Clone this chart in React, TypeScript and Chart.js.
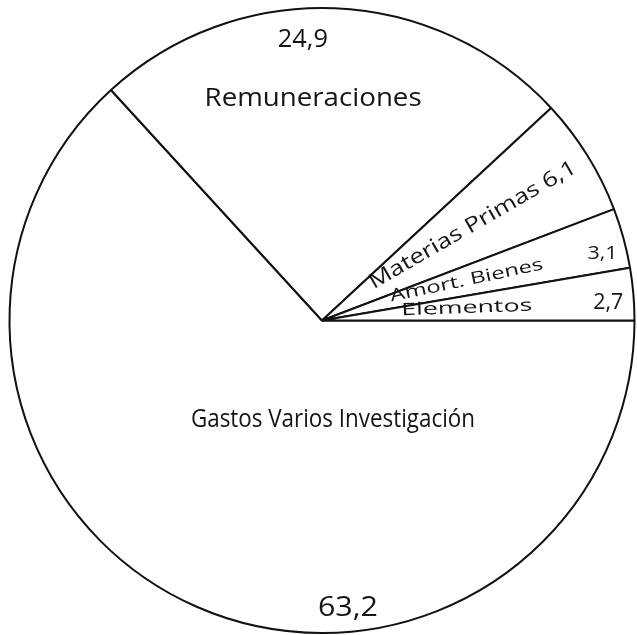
import React, { useEffect, useRef } from "react";
import { Chart, registerables } from "chart.js";

Chart.register(...registerables);

// Data (clockwise from 3 o'clock)
const categories = [
  "Gastos Varios Investigación",
  "Remuneraciones",
  "Materias Primas",
  "Amort. Bienes",
  "Elementos",
];
const values = [63.2, 24.9, 6.1, 3.1, 2.7];
const valueLabels = values.map((v) => v.toFixed(1).replace(".", ","));

// Label placement: polar position relative to the pie centre (fraction of radius, degrees)
type Placement = { i: number; t: "name" | "value" | "both"; r: number; a: number; rot: number; size: number; w: number };
const placements: Placement[] = [
  { i: 1, t: "name", r: 0.711, a: -92.3, rot: 0, size: 25, w: 217 },
  { i: 1, t: "value", r: 0.9, a: -93.9, rot: 0, size: 26, w: 50 },
  { i: 2, t: "both", r: 0.571, a: -32.3, rot: -30, size: 21, w: 236 },
  { i: 3, t: "name", r: 0.48, a: -15.4, rot: -12, size: 17, w: 156 },
  { i: 3, t: "value", r: 0.923, a: -13.4, rot: 0, size: 19, w: 30 },
  { i: 4, t: "name", r: 0.465, a: -4.9, rot: -2, size: 17, w: 131 },
  { i: 4, t: "value", r: 0.918, a: -3.5, rot: 0, size: 21, w: 30 },
  { i: 0, t: "name", r: 0.32, a: 83.7, rot: 0, size: 26, w: 284 },
  { i: 0, t: "value", r: 0.925, a: 84.85, rot: 0, size: 27, w: 60 },
];

const labelPlugin = {
  id: "handLabels",
  afterDatasetsDraw(chart: any) {
    const meta = chart.getDatasetMeta(0);
    const ctx = chart.ctx;
    ctx.save();
    ctx.fillStyle = "#151515";
    ctx.textAlign = "center";
    ctx.textBaseline = "middle";
    for (const p of placements) {
      const arc = meta.data[p.i];
      if (!arc) continue;
      const { x, y, outerRadius } = arc.getProps(["x", "y", "outerRadius"], true);
      const ang = (p.a * Math.PI) / 180;
      const px = x + Math.cos(ang) * outerRadius * p.r;
      const py = y + Math.sin(ang) * outerRadius * p.r;
      let text = "";
      if (p.t === "name") text = categories[p.i];
      else if (p.t === "value") text = valueLabels[p.i];
      else text = categories[p.i] + " " + valueLabels[p.i];
      ctx.save();
      ctx.translate(px, py);
      ctx.rotate((p.rot * Math.PI) / 180);
      ctx.font = `${p.size}px "Open Sans", "DejaVu Sans", sans-serif`;
      const nat = ctx.measureText(text).width || 1;
      ctx.scale(p.w / nat, 1);
      ctx.fillText(text, 0, 0);
      ctx.restore();
    }
    ctx.restore();
  },
};

export default function App() {
  const canvasRef = useRef<HTMLCanvasElement | null>(null);

  useEffect(() => {
    if (!canvasRef.current) return;
    const chart = new Chart(canvasRef.current, {
      type: "pie",
      data: {
        labels: categories,
        datasets: [
          {
            data: values,
            backgroundColor: "#ffffff",
            borderColor: "#111111",
            borderWidth: 2,
            hoverOffset: 0,
          },
        ],
      },
      options: {
        animation: false,
        responsive: true,
        maintainAspectRatio: false,
        rotation: 90,
        layout: { padding: { left: 8, right: 1, top: 7, bottom: 1 } },
        plugins: {
          legend: { display: false },
          tooltip: { enabled: false },
        },
        events: [],
      },
      plugins: [labelPlugin],
    });
    return () => chart.destroy();
  }, []);

  return (
    <div style={{ position: "fixed", left: 0, top: 0, width: 637, height: 635, background: "#fff" }}>
      <canvas ref={canvasRef} />
    </div>
  );
}
